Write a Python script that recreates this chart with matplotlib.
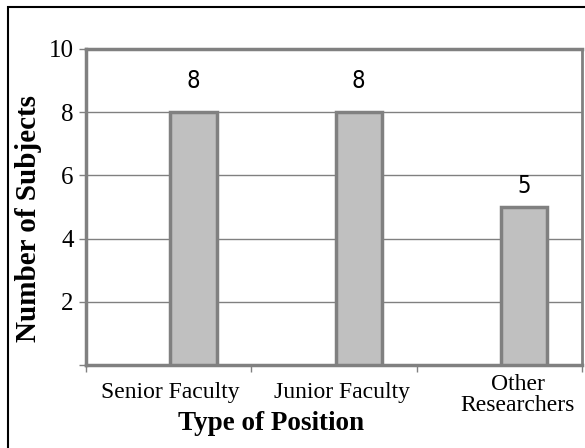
import matplotlib
matplotlib.use("Agg")
import matplotlib.pyplot as plt
from matplotlib.patches import Rectangle
import numpy as np

plt.rcParams["font.family"] = ["Liberation Serif", "DejaVu Serif"]

categories = ["Senior Faculty", "Junior Faculty", "Other\nResearchers"]
values = [8, 8, 5]
yticks = [0, 2, 4, 6, 8, 10]
ytick_labels = ["", "2", "4", "6", "8", "10"]

W, H = 585, 448
fig = plt.figure(figsize=(W / 100, H / 100), dpi=100)
ax = fig.add_axes([86 / W, (H - 365) / H, (582 - 86) / W, (365 - 49) / H])

gray = "#808080"
x = np.arange(len(categories))
offset = 0.15
bars = ax.bar(x + offset, values, width=0.28, color="#c0c0c0", edgecolor=gray, linewidth=2.5, zorder=3)

label_gap = [1.0, 1.0, 0.65]
for xi, v, g in zip(x, values, label_gap):
    ax.text(xi + offset, v + g, str(v), ha="center", va="center",
            family=["Liberation Sans Narrow", "DejaVu Sans"], fontstretch="condensed", fontsize=17)

ax.set_xlim(-0.5, 2.5)
ax.set_ylim(0, 10)
ax.set_yticks(yticks, ytick_labels)
ax.yaxis.grid(True, color=gray, linewidth=1, zorder=0)
ax.set_axisbelow(True)

ax.set_xticks([-0.5, 0.5, 1.5, 2.5], ["", "", "", ""])
ax.tick_params(axis="both", color=gray, length=5, width=1)
ax.tick_params(axis="y", pad=4, labelsize=18)

for s in ax.spines.values():
    s.set_color(gray)
    s.set_linewidth(2.5)
ax.spines["right"].set_linewidth(2)

label_pos = [0.01, 1.05, 2.11]
label_y = [-0.054, -0.054, -0.029]
for lp, ly, c in zip(label_pos, label_y, categories):
    ax.text(lp, ly, c, transform=ax.get_xaxis_transform(), ha="center", va="top",
            fontsize=17, linespacing=1.0)

fig.text(271 / W, 1 - 430 / H, "Type of Position", ha="center", va="baseline",
         fontsize=19.5, fontweight="bold")
fig.text(28 / W, 1 - 218 / H, "Number of Subjects", ha="center", va="center", rotation=90,
         fontsize=21, fontweight="bold")

fig.add_artist(Rectangle((8 / W, -0.1), 2, (H - 7) / H + 0.1, transform=fig.transFigure,
                         fill=False, ec="black", lw=1.5))

fig.savefig("out.png", dpi=100)
